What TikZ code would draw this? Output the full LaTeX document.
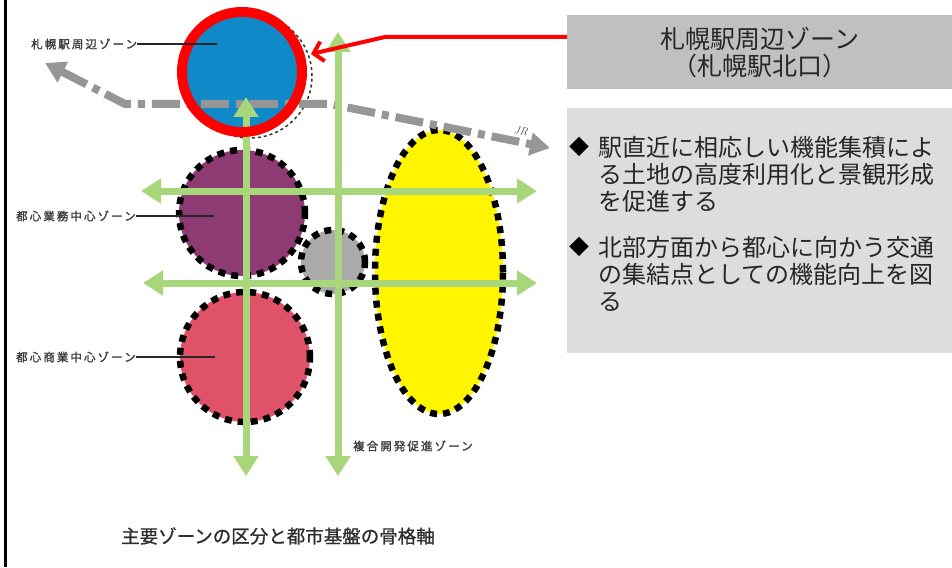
\documentclass[tikz,border=0pt]{standalone}
\usepackage{fontspec}
\usetikzlibrary{arrows.meta,shapes.geometric}
\newfontfamily\jp{Noto Sans CJK JP}
\newfontfamily\jplab[LetterSpace=18,FakeBold=1.6]{Noto Sans CJK JP}
\newfontfamily\jpcap[FakeBold=0.8]{Noto Sans CJK JP}
\definecolor{stablue}{RGB}{16,137,200}
\definecolor{purp}{RGB}{142,58,115}
\definecolor{pinkc}{RGB}{224,82,104}
\definecolor{grayc}{RGB}{170,170,170}
\definecolor{yel}{RGB}{255,245,0}
\definecolor{lgreen}{RGB}{168,214,122}
\definecolor{jrgray}{RGB}{150,150,150}
\definecolor{boxa}{RGB}{192,192,192}
\definecolor{boxb}{RGB}{221,221,221}
\definecolor{labgray}{RGB}{60,60,60}
\definecolor{capgray}{RGB}{45,45,45}
\begin{document}
\begin{tikzpicture}[x=1pt,y=-1pt,
  zone/.style={draw=black, line width=6.5pt, dash pattern=on 7pt off 6pt, inner sep=0pt},
  garrow/.style={draw=lgreen, line width=7pt, {Triangle[width=24pt,length=20pt]}-{Triangle[width=24pt,length=20pt]}},
  jrline/.style={draw=jrgray, line width=8pt, dash pattern=on 28pt off 7pt on 7pt off 7pt, {Triangle[width=22pt,length=20pt]}-{Triangle[width=22pt,length=20pt]}},
  lab/.style={font=\jplab\fontsize{11.5}{13}\selectfont, text=labgray, inner sep=0pt},
  leader/.style={draw=black!85, line width=1.5pt},
  boxtxt/.style={font=\jp\fontsize{24}{27}\selectfont, text=black!85, inner sep=0pt, anchor=base west},
  bullet/.style={font=\jp\fontsize{20}{24}\selectfont, text=black, inner sep=0pt}
]
\useasboundingbox (0,0) rectangle (952,567);
\fill[white] (0,0) rectangle (952,567);
\draw[black, line width=3pt] (5,0) -- (5,567);

% zones
\node[circle, draw=black!80, dashed, line width=1.5pt, minimum size=124pt, inner sep=0pt] (stashadow) at (250,76) {};
\node[circle, fill=stablue, minimum size=120pt, inner sep=0pt] (sta) at (242,72) {};
\node[zone, circle, fill=purp, minimum size=126pt] (cbd) at (242,213) {};
\node[zone, circle, fill=pinkc, minimum size=130pt] (com) at (245,357) {};
\node[zone, circle, fill=grayc, minimum size=64pt] (gry) at (333,262) {};
\node[zone, ellipse, fill=yel, minimum width=128pt, minimum height=284pt] (mix) at (439,272) {};

% JR line
\coordinate (jrA) at (45,63);
\coordinate (jrB) at (125,104);
\coordinate (jrC) at (330,104);
\coordinate (jrD) at (550,148);
\draw[jrline] (jrA) -- (jrB) -- (jrC) -- (jrD);
\node[font=\itshape\fontsize{11}{12}\selectfont, text=black!70, rotate=-10] (jr) at (521,131) {JR};

% green axes
\coordinate (h1a) at (141,191); \coordinate (h1b) at (537,191);
\coordinate (h2a) at (143,283); \coordinate (h2b) at (537,283);
\coordinate (v1a) at (246,97);  \coordinate (v1b) at (246,476);
\coordinate (v2a) at (338,32);  \coordinate (v2b) at (338,476);
\draw[garrow] (h1a) -- (h1b);
\draw[garrow] (h2a) -- (h2b);
\draw[garrow] (v1a) -- (v1b);
\draw[garrow] (v2a) -- (v2b);

% red ring
\node[circle, draw=red, line width=10pt, minimum size=120pt, inner sep=0pt] (ring) at (242,72) {};

% boxes
\node[fill=boxa, minimum width=385pt, minimum height=74pt, anchor=north west, inner sep=0pt,
      font=\jp\fontsize{25}{27}\selectfont, text=black!85, align=center] (box1) at (567,15)
      {札幌駅周辺ゾーン\\（札幌駅北口）};
\node[fill=boxb, minimum width=385pt, minimum height=245pt, anchor=north west, inner sep=0pt] (box2) at (567,108) {};

\coordinate (redbend) at (385,37);
\coordinate (redtip) at (311,54);
\draw[red, line width=4pt, -{Straight Barb[length=9pt,width=20pt]}] (box1.west |- 0,37) -- (redbend) -- (redtip);

\node[bullet] (b1) at (579,147) {◆};
\node[boxtxt] (t11) at (598,156) {駅直近に相応しい機能集積によ};
\node[boxtxt] (t12) at (598,183) {る土地の高度利用化と景観形成};
\node[boxtxt] (t13) at (598,210) {を促進する};
\node[bullet] (b2) at (579,247) {◆};
\node[boxtxt] (t21) at (598,256) {北部方面から都心に向かう交通};
\node[boxtxt] (t22) at (598,283) {の集結点としての機能向上を図};
\node[boxtxt] (t23) at (598,310) {る};

% left labels
\node[lab, anchor=west] (l1) at (31,44) {札幌駅周辺ゾーン};
\coordinate (l1e) at (217,44);
\draw[leader] (l1.east) -- (l1e);
\node[lab, anchor=west] (l2) at (16,216) {都心業務中心ゾーン};
\coordinate (l2e) at (214,216);
\draw[leader] (l2.east) -- (l2e);
\node[lab, anchor=west] (l3) at (16,357) {都心商業中心ゾーン};
\coordinate (l3e) at (215,357);
\draw[leader] (l3.east) -- (l3e);
\node[lab, anchor=west] (l4) at (353,446) {複合開発促進ゾーン};

\node[font=\jpcap\fontsize{18.5}{20}\selectfont, text=capgray, inner sep=0pt] (cap) at (278,536) {主要ゾーンの区分と都市基盤の骨格軸};
\end{tikzpicture}
\end{document}
